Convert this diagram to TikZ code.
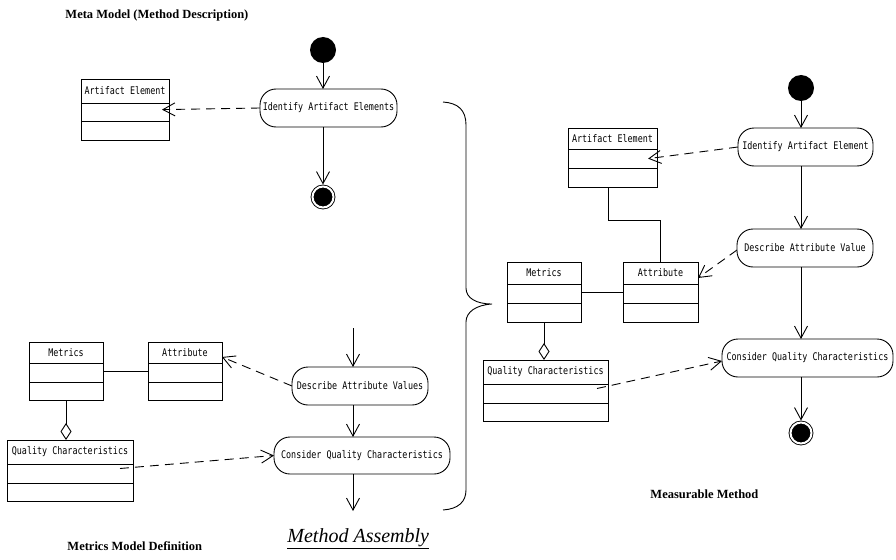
\documentclass[tikz,border=0pt]{standalone}
\usepackage{fontspec}
\setmainfont{Liberation Serif}
\newfontfamily\nodefont[FakeStretch=0.8]{DejaVu Sans Mono}
\usetikzlibrary{arrows.meta,calc}
\tikzset{
  cls/.style={draw, inner sep=0pt, outer sep=0pt},
  act/.style={draw, rounded corners=16pt, inner sep=0pt, outer sep=0pt, minimum height=38pt,
    font=\nodefont\fontsize{10.5}{12}\selectfont},
  lbl/.style={font=\nodefont\fontsize{10.5}{12}\selectfont, inner sep=0pt},
  flow/.style={-{Straight Barb[length=12pt,width=13pt]}},
  dep/.style={flow, dash pattern=on 9pt off 6pt},
  agg/.style={{Diamond[open,length=17pt,width=11pt]}-},
  initnode/.style={circle, fill=black, minimum size=26pt, inner sep=0pt, outer sep=0pt},
  finalnode/.style={circle, draw=black, double=white, double distance=2pt, fill=black,
    minimum size=21pt, inner sep=0pt, outer sep=2pt},
  ttl/.style={font=\bfseries\fontsize{12.5}{14}\selectfont, inner sep=0pt}
}
\newcommand{\umlclass}[8]{%
  \node[cls, minimum width={(#4-#2)*1pt}, minimum height={(#5-#3)*1pt}] (#1) at ({(#2+#4)/2},{(#3+#5)/2}) {};
  \draw (#2,#6) -- (#4,#6);
  \draw (#2,#7) -- (#4,#7);
  \node[lbl] (#1-t) at ({(#2+#4)/2},{(#3+#6)/2}) {#8};
}
\begin{document}
\begin{tikzpicture}[x=1pt, y=-1pt, line width=0.9pt]
\useasboundingbox (0,0) rectangle (896,559);

% titles
\node[ttl, anchor=west] (t1) at (65,15) {Meta Model (Method Description)};
\node[ttl, anchor=west] (t2) at (67,546) {Metrics Model Definition};
\node[ttl, anchor=west] (t3) at (650,494) {Measurable Method};
\node[inner sep=0pt, anchor=west, font=\itshape\fontsize{20}{22}\selectfont] (t4) at (287,539) {\underline{Method Assembly}};

% ---------- top-left: meta model ----------
\node[initnode] (init1) at (323,50) {};
\node[act, minimum width=137pt] (ia1) at (328.5,108) {Identify Artifact Elements};
\node[finalnode] (fin1) at (323,197) {};
\umlclass{ae1}{81}{79}{169}{140}{103}{121}{Artifact Element}
\draw[flow] (init1) -- (init1 |- ia1.north);
\draw[flow] (ia1.south -| init1) -- (fin1);
\draw[dep, shorten >=-7pt] (ia1.west) -- (ae1.east);

% ---------- bottom-left: metrics model ----------
\umlclass{met2}{29}{342}{103}{400}{363}{382}{Metrics}
\umlclass{attr2}{148}{342}{222}{400}{363}{382}{Attribute}
\umlclass{qc2}{7}{440}{133}{501}{464}{483}{Quality Characteristics}
\node[act, minimum width=136pt] (da2) at (360,386) {Describe Attribute Values};
\node[act, minimum width=176pt, minimum height=37pt] (cq2) at (362,455.5) {Consider Quality Characteristics};
\coordinate (in2) at (353,328);
\coordinate (out2) at (353,511);
\draw[flow] (in2) -- (in2 |- da2.north);
\draw[flow] (da2.south -| in2) -- (in2 |- cq2.north);
\draw[flow] (cq2.south -| in2) -- (out2);
\draw[dep] (da2.west) -- ($(attr2.north east)+(0,15)$);
\draw (met2.east) -- (attr2.west);
\draw[agg] (met2.south |- qc2.north) -- (met2.south);
\draw[dep] ($(qc2.east)+(-13,-2)$) -- (cq2.west);

% ---------- brace ----------
\draw (443,102) .. controls (458,103) and (466,110) .. (466,125) -- (466,288)
  .. controls (466,298) and (476,304) .. (492,304)
  .. controls (476,305) and (466,312) .. (466,322) -- (466,490)
  .. controls (466,502) and (458,509) .. (443,510);

% ---------- right: measurable method ----------
\node[initnode] (init3) at (801,88) {};
\node[act, minimum width=135pt] (ia3) at (805.5,147) {Identify Artifact Element};
\node[act, minimum width=136pt] (da3) at (805,248) {Describe Attribute Value};
\node[act, minimum width=171pt] (cq3) at (807.5,358) {Consider Quality Characteristics};
\node[finalnode] (fin3) at (801,433) {};
\umlclass{ae3}{568}{128}{657}{187}{149}{168}{Artifact Element}
\umlclass{met3}{507}{262}{581}{322}{284}{303}{Metrics}
\umlclass{attr3}{623}{262}{698}{322}{284}{303}{Attribute}
\umlclass{qc3}{483}{360}{608}{421}{384}{403}{Quality Characteristics}
\draw[flow] (init3) -- (init3 |- ia3.north);
\draw[flow] (ia3.south -| init3) -- (init3 |- da3.north);
\draw[flow] (da3.south -| init3) -- (init3 |- cq3.north);
\draw[flow] (cq3.south -| init3) -- (fin3);
\draw[dep, shorten >=-9pt] (ia3.west) -- (ae3.east);
\draw[dep] ($(da3.west)+(0,2)$) -- ($(attr3.north east)+(0,16)$);
\draw ($(ae3.south)+(-4,0)$) -- ++(0,33) -| (attr3.north);
\draw (met3.east) -- (attr3.west);
\draw[agg] (met3.south |- qc3.north) -- (met3.south);
\draw[dep] ($(qc3.east)+(-11,-2)$) -- ($(cq3.west)+(0,3)$);
\end{tikzpicture}
\end{document}
